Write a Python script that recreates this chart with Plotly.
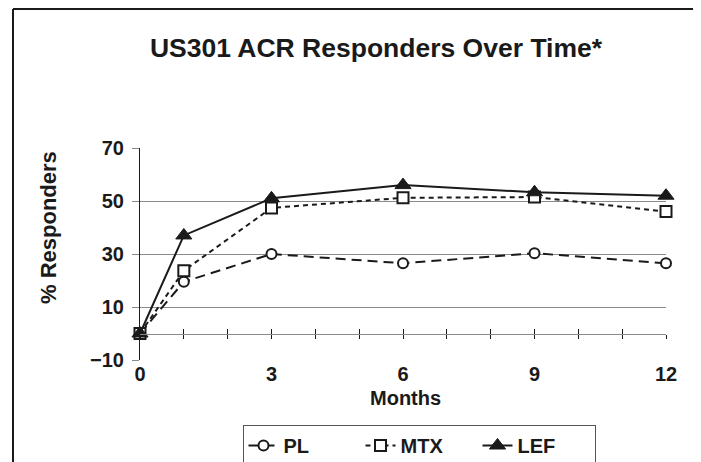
import plotly.graph_objects as go

months = [0, 1, 3, 6, 9, 12]
pl = [0, 19.5, 30, 26.5, 30.3, 26.5]
mtx = [0, 23.7, 47.4, 51.2, 51.5, 46]
lef = [0, 37, 51, 56, 53.3, 52]
y_ticks = [-10, 10, 30, 50, 70]
x_labels = [0, 3, 6, 9, 12]
month_ticks = list(range(0, 13))

INK = "#1a1a1a"
GRID = "#8a8a8a"
FONT = "Liberation Sans, Arial, sans-serif"

# page has an 8px body margin, so figure coords = page coords - 8
L, R, T, B = 132, 43, 140, 110
W, H = 701, 462
PW, PH = W - L - R, H - T - B


def px_x(x):
    return (x - L) / PW


def px_y(y):
    return (H - B - y) / PH


fig = go.Figure()
fig.add_trace(go.Scatter(
    x=months, y=pl, name="PL", mode="lines+markers", cliponaxis=False,
    line=dict(color=INK, width=2, dash="10px,6px"),
    marker=dict(symbol="circle", size=10, color="white", line=dict(color=INK, width=2))))
fig.add_trace(go.Scatter(
    x=months, y=mtx, name="MTX", mode="lines+markers", cliponaxis=False,
    line=dict(color=INK, width=2, dash="5px,4px"),
    marker=dict(symbol="square", size=11, color="white", line=dict(color=INK, width=2))))
fig.add_trace(go.Scatter(
    x=months, y=lef, name="LEF", mode="lines+markers", cliponaxis=False,
    line=dict(color=INK, width=2),
    marker=dict(symbol="triangle-up", size=14, color=INK, line=dict(color=INK, width=1))))
# helper traces so the zero-line axes are drawn
for ax in ["x2", "x3"]:
    fig.add_trace(go.Scatter(x=[None], y=[None], xaxis=ax, showlegend=False,
                             hoverinfo="skip", mode="markers"))

fig.update_layout(
    width=W, height=H,
    margin=dict(l=L, r=R, t=T, b=B, autoexpand=False),
    paper_bgcolor="white", plot_bgcolor="white",
    font=dict(family=FONT, color=INK, size=20, weight="bold"),
    title=dict(text="US301 ACR Responders Over Time*", x=368 / W, xanchor="center",
               y=1 - 40 / H, yanchor="middle", yref="container",
               font=dict(size=26.5, family=FONT, color=INK, weight="bold")),
    xaxis=dict(range=[0, 12], tickvals=x_labels, showgrid=False, zeroline=False,
               showline=False, ticks="", ticklabelstandoff=0, automargin=False,
               tickfont=dict(size=20, weight="bold")),
    xaxis2=dict(overlaying="x", matches="x", anchor="free", position=0.125,
                tickvals=month_ticks, showticklabels=False, showgrid=False, zeroline=False,
                showline=True, linecolor=GRID, linewidth=1,
                ticks="outside", ticklen=4, tickcolor=INK, tickwidth=1),
    xaxis3=dict(overlaying="x", matches="x", anchor="free", position=0.125,
                tickvals=month_ticks, showticklabels=False, showgrid=False, zeroline=False,
                showline=False, ticks="inside", ticklen=5, tickcolor=INK, tickwidth=1),
    yaxis=dict(range=[-10, 70], tickvals=y_ticks, showgrid=True, gridcolor=GRID, gridwidth=1,
               zeroline=False, showline=True, linecolor=INK, linewidth=1,
               ticks="outside", ticklen=7, tickcolor=GRID, ticklabelstandoff=4,
               automargin=False,
               tickfont=dict(size=20, weight="bold")),
    annotations=[
        dict(text="% Responders", textangle=-90, showarrow=False,
             xref="paper", yref="paper", x=px_x(40), y=px_y(220),
             xanchor="center", yanchor="middle",
             font=dict(size=22, family=FONT, color=INK, weight="bold")),
        dict(text="Months", showarrow=False,
             xref="paper", yref="paper", x=px_x(397), y=px_y(377),
             xanchor="center", yanchor="top",
             font=dict(size=20, family=FONT, color=INK, weight="bold")),
    ],
    legend=dict(orientation="h", x=px_x(411), xanchor="center",
                y=px_y(417), yanchor="top",
                bordercolor="#555", borderwidth=1, bgcolor="white",
                font=dict(size=20, weight="bold"),
                entrywidth=72, entrywidthmode="pixels",
                tracegroupgap=0),
    shapes=[
        dict(type="line", xref="paper", yref="paper", x0=px_x(5), x1=px_x(W + 5),
             y0=px_y(1), y1=px_y(1), line=dict(color=INK, width=2)),
        dict(type="line", xref="paper", yref="paper", x0=px_x(5), x1=px_x(5),
             y0=px_y(1), y1=px_y(H + 5), line=dict(color=INK, width=2)),
    ],
    showlegend=True,
)

fig.write_html("out.html")
